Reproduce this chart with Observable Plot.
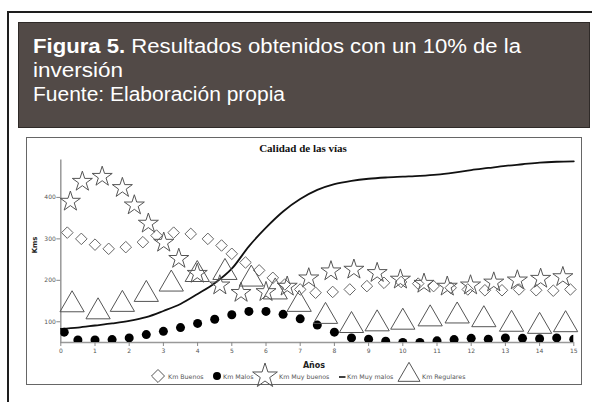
<!DOCTYPE html>
<html><head><meta charset="utf-8">
<script src="https://cdn.jsdelivr.net/npm/d3@7"></script>
<script src="https://cdn.jsdelivr.net/npm/@observablehq/plot@0.6"></script>
<style>
body{margin:0;width:592px;height:402px;overflow:hidden;background:#fff;position:relative;font-family:"Liberation Sans",sans-serif}
#frame{position:absolute;left:7px;top:11px;width:620px;height:440px;border:2px solid #1e1e1e;box-sizing:border-box}
#header{position:absolute;left:18px;top:22px;width:572px;height:106px;background:#524a47;border:1px solid #2f2a28;box-sizing:border-box;color:#fff;font-size:20px;line-height:24px;padding:11px 0 0 14px}
#header .ln{white-space:nowrap;height:24px}
#header .ln span{display:inline-block;transform-origin:0 50%}
#chartbox{position:absolute;left:26px;top:137px;width:556px;height:248px;border:1px solid #666;box-sizing:border-box}
#title{position:absolute;left:0;width:606px;top:142px;text-align:center;font:bold 11px "Liberation Serif",serif;color:#111}
#ylab{position:absolute;left:35px;top:245px;transform:translate(-50%,-50%) rotate(-90deg);font:bold 7px "DejaVu Sans",sans-serif;color:#222}
#xlab{position:absolute;left:314px;top:365px;transform:translate(-50%,-50%);font:bold 8px "DejaVu Sans",sans-serif;color:#222}
#plot{position:absolute;left:0;top:0}
#legend{position:absolute;left:0;top:0}
</style></head><body>
<div id="frame"></div>
<div id="header">
  <div class="ln"><span data-w="488"><b>Figura 5.</b> Resultados obtenidos con un 10% de la</span></div>
  <div class="ln"><span data-w="90">inversión</span></div>
  <div class="ln"><span data-w="252">Fuente: Elaboración propia</span></div>
</div>
<div id="chartbox"></div>
<div id="plot"></div>
<div id="title">Calidad de las vías</div>
<div id="ylab">Kms</div>
<div id="xlab">Años</div>
<svg id="legend" width="592" height="402"></svg>
<script>
// Km Buenos (diamonds)
const buenosX = [0.19,0.6,1.0,1.4,1.9,2.4,2.8,3.3,3.8,4.3,4.7,5.0,5.4,5.8,6.2,6.55,7.0,7.45,7.95,8.45,8.95,9.45,9.95,10.45,10.9,11.4,11.9,12.4,12.9,13.4,13.9,14.4,14.9];
const buenosY = [315,300,286,276,280,292,308,315,312,300,284,264,243,224,206,190,178,170,172,178,186,194,196,192,186,182,178,176,176,178,176,175,178];
// Km Malos (filled circles)
const malosX = [0.1,0.5,1,1.5,2,2.5,3,3.5,4,4.5,5,5.5,6,6.5,7,7.5,8,8.5,9,9.5,10,10.5,11,11.5,12,12.5,13,13.5,14,14.5,15];
const malosY = [75,56,56,57,61,69,77,86,96,106,117,125,125,118,107,92,75,61,58,53,50,50,54,57,60,58,61,60,59,61,58];
// Km Muy buenos (stars)
const muyBuenosX = [0.28,0.63,1.21,1.8,2.15,2.56,3.01,3.45,3.99,4.65,5.27,6.0,6.62,7.25,7.9,8.57,9.25,9.93,10.62,11.3,11.98,12.66,13.35,14.03,14.68];
const muyBuenosY = [390,438,450,423,381,337,291,252,216,188,170,172,185,205,222,226,218,202,192,185,188,195,200,204,208];
// Km Muy malos (line)
const muyMalosX = [0,0.5,1,1.5,2,2.5,3,3.5,4,4.5,5,5.5,6,6.5,7,7.5,8,8.5,9,9.5,10,10.5,11,11.5,12,12.5,13,13.5,14,14.5,15];
const muyMalosY = [83,86,91,96,102,111,126,143,167,193,228,282,327,366,396,418,432,440,445,448,450,452,455,460,466,471,476,480,484,486,487];
// Km Regulares (triangles)
const regularesX = [0.33,1.09,1.8,2.5,3.23,3.99,4.8,5.57,6.27,6.97,7.74,8.5,9.25,10.0,10.8,11.59,12.37,13.18,14.0,14.76];
const regularesY = [141,124,142,166,191,214,219,203,172,142,113,91,95,99,107,114,105,94,89,93];

const xTicks = d3.range(0, 16);
const yTicks = [100, 200, 300, 400];
const legendLabels = ["Km Buenos", "Km Malos", "Km Muy buenos", "Km Muy malos", "Km Regulares"];

const zip = (xs, ys) => xs.map((x, i) => ({x, y: ys[i]}));
const buenos = zip(buenosX, buenosY);
const malos = zip(malosX, malosY);
const muyBuenos = zip(muyBuenosX, muyBuenosY);
const muyMalos = zip(muyMalosX, muyMalosY);
const regulares = zip(regularesX, regularesY);

const plot = Plot.plot({
  width: 592, height: 402,
  marginLeft: 60.3, marginRight: 18.7, marginTop: 159.6, marginBottom: 60,
  style: {background: "transparent", overflow: "visible"},
  x: {domain: [0, 15]},
  y: {domain: [50, 490]},
  marks: [
    Plot.ruleY([50], {stroke: "#999", strokeWidth: 1.5}),
    Plot.ruleX([0], {y1: 50, y2: 490, stroke: "#999", strokeWidth: 1.5}),
    Plot.axisX({ticks: xTicks, tickSize: 4, tickPadding: 2, fontSize: 6, fill: "#555", stroke: "#888", label: null, fontFamily: "DejaVu Sans"}),
    Plot.axisY({ticks: yTicks, tickSize: 4, tickPadding: 1, fontSize: 6, fill: "#555", stroke: "#888", label: null, fontFamily: "DejaVu Sans"}),
    Plot.line(muyMalos, {x: "x", y: "y", curve: "monotone-x", stroke: "#111", strokeWidth: 1.8}),
    Plot.dot(malos, {x: "x", y: "y", r: 4.5, fill: "#000", stroke: "none", clip: true}),
    Plot.dot(regulares, {x: "x", y: "y", symbol: "triangle", r: 9, fill: "none", stroke: "#555", strokeWidth: 1}),
    Plot.dot(buenos, {x: "x", y: "y", symbol: "diamond2", r: 5.2, fill: "none", stroke: "#666", strokeWidth: 1}),
    Plot.dot(muyBuenos, {x: "x", y: "y", symbol: "star", r: 6.3, fill: "none", stroke: "#555", strokeWidth: 1})
  ]
});
document.getElementById("plot").appendChild(plot);

// legend
const svg = d3.select("#legend");
const ly = 377;
const items = [
  {sym: d3.symbolDiamond2, size: 108, cx: 158, tx: 168, fill: "none"},
  {sym: d3.symbolCircle, size: 50, cx: 217, tx: 223, fill: "#000"},
  {sym: d3.symbolStar, size: 190, cx: 265, tx: 279, fill: "none"},
  {line: true, cx: 342, tx: 347},
  {sym: d3.symbolTriangle, size: 209, cx: 409, tx: 422, fill: "none"}
];
items.forEach((it, i) => {
  if (it.line) {
    svg.append("line").attr("x1", 339).attr("x2", 345.5).attr("y1", ly).attr("y2", ly).attr("stroke", "#111").attr("stroke-width", 1.6);
  } else {
    svg.append("path").attr("d", d3.symbol(it.sym, it.size)())
      .attr("transform", `translate(${it.cx},${it.sym === d3.symbolTriangle ? ly - 2 : ly - 1})`)
      .attr("fill", it.fill).attr("stroke", it.fill === "none" ? "#555" : "none").attr("stroke-width", 1);
  }
  svg.append("text").attr("x", it.tx).attr("y", ly + 2).attr("font-size", 6.3)
    .attr("font-family", "DejaVu Sans").attr("fill", "#555").text(legendLabels[i]);
});

// stretch header lines to the reference widths
function fitHeader() {
  document.querySelectorAll("#header .ln span").forEach(s => {
    s.style.transform = "none";
    const w = s.getBoundingClientRect().width;
    const target = +s.dataset.w;
    if (w > 0) s.style.transform = `scaleX(${(target / w).toFixed(4)})`;
  });
}
fitHeader();
if (document.fonts && document.fonts.ready) document.fonts.ready.then(fitHeader);
</script>
</body></html>
